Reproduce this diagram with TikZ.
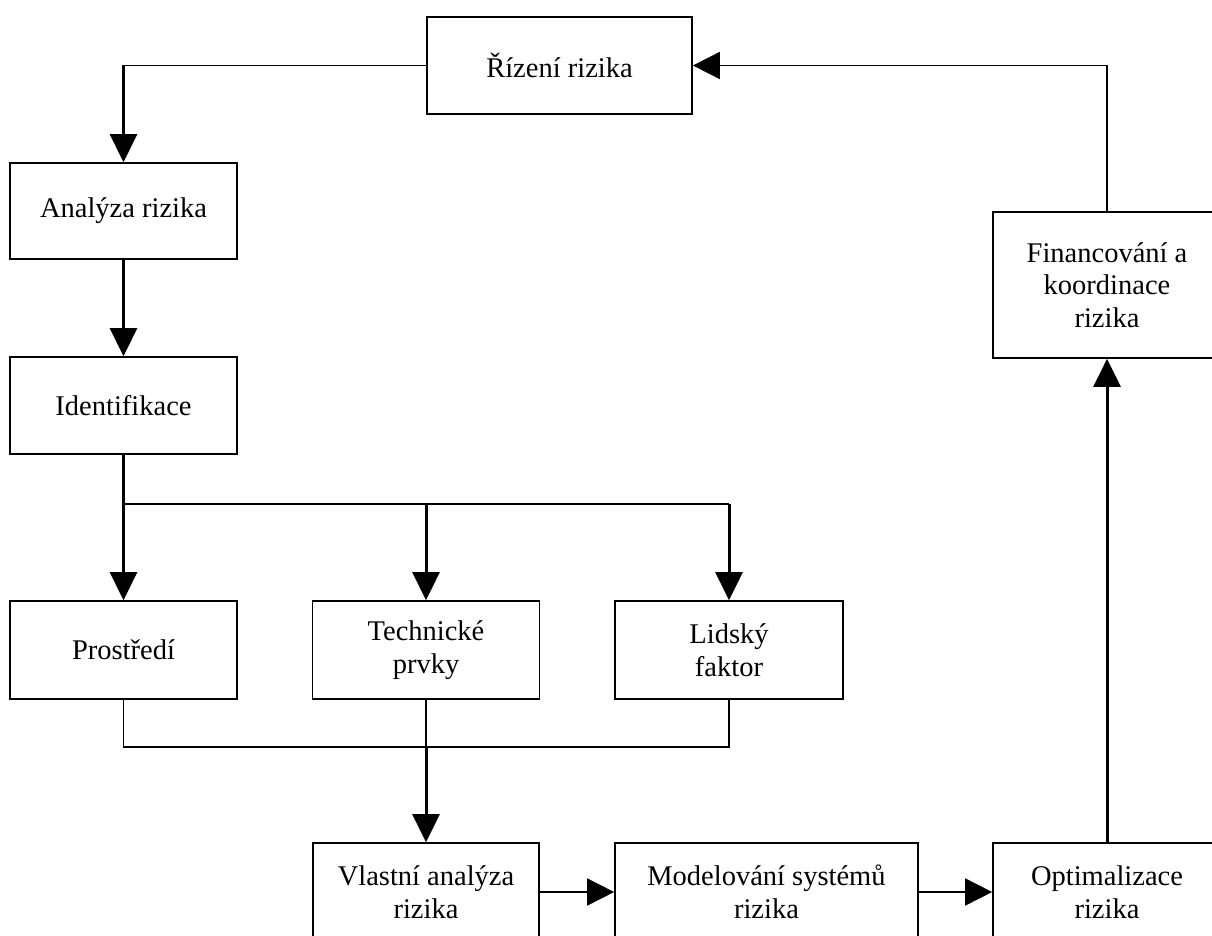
\documentclass[tikz,border=0pt]{standalone}
\usepackage{fontspec}
\setmainfont{Liberation Serif}
\usetikzlibrary{arrows.meta}
\begin{document}
\begin{tikzpicture}[x=1pt,y=-1pt,
  box/.style={draw, line width=1.7pt, fill=white, inner sep=0pt, align=center,
    font=\fontsize{28.5}{32.5}\selectfont},
  thin/.style={line width=1.5pt},
  flow/.style={line width=3pt, -{Triangle[length=28pt,width=27pt]}},
  flowthin/.style={line width=1.7pt, -{Triangle[length=27pt,width=27pt]}}]
\useasboundingbox (0,0) rectangle (1212,936);
\clip (0,0) rectangle (1212,936);

% boxes
\node[box, minimum width=265pt, minimum height=97pt] (riz) at (559.5,65.5) {Řízení rizika};
\node[box, minimum width=227pt, minimum height=96pt] (anal) at (123.5,211) {Analýza rizika};
\node[box, minimum width=227pt, minimum height=97pt] (ident) at (123.5,405.5) {Identifikace};
\node[box, minimum width=227pt, minimum height=98pt] (prost) at (123.5,650) {Prostředí};
\node[box, minimum width=227pt, minimum height=98pt] (tech) at (426,650) {Technické\\prvky};
\node[box, minimum width=228pt, minimum height=98pt] (lid) at (729,650) {Lidský\\faktor};
\node[box, minimum width=226pt, minimum height=98pt] (vl) at (426,892) {Vlastní analýza\\rizika};
\node[box, minimum width=303pt, minimum height=98pt] (mod) at (766.5,892) {Modelování systémů\\rizika};
\node[box, minimum width=228pt, minimum height=98pt] (opt) at (1107,892) {Optimalizace\\rizika};
\node[box, minimum width=228pt, minimum height=146pt] (fin) at (1107,285) {Financování a\\koordinace\\rizika};

% helper points
\coordinate (c1) at (anal.north |- riz.west);
\coordinate (br) at (123.5,504);
\coordinate (mg) at (426,747);

% management loop into analysis
\draw[thin] (riz.west) -- (c1);
\draw[flow] (c1) -- (anal.north);
\draw[flow] (anal.south) -- (ident.north);

% identification branches
\draw[flow] (ident.south) -- (prost.north);
\draw[thin] (br) -- (br -| lid.north);
\draw[flow] (br -| tech.north) -- (tech.north);
\draw[flow] (br -| lid.north) -- (lid.north);

% merge into own analysis
\draw[thin] (prost.south) -- (prost.south |- mg) -- (mg -| lid.south) -- (lid.south);
\draw[thin] (tech.south) -- (mg);
\draw[flow] (mg) -- (vl.north);

% bottom chain and return
\draw[flowthin] (vl.east) -- (mod.west);
\draw[flowthin] (mod.east) -- (opt.west);
\draw[flow] (opt.north) -- (fin.south);
\draw[flowthin] (fin.north) |- (riz.east);
\end{tikzpicture}
\end{document}
